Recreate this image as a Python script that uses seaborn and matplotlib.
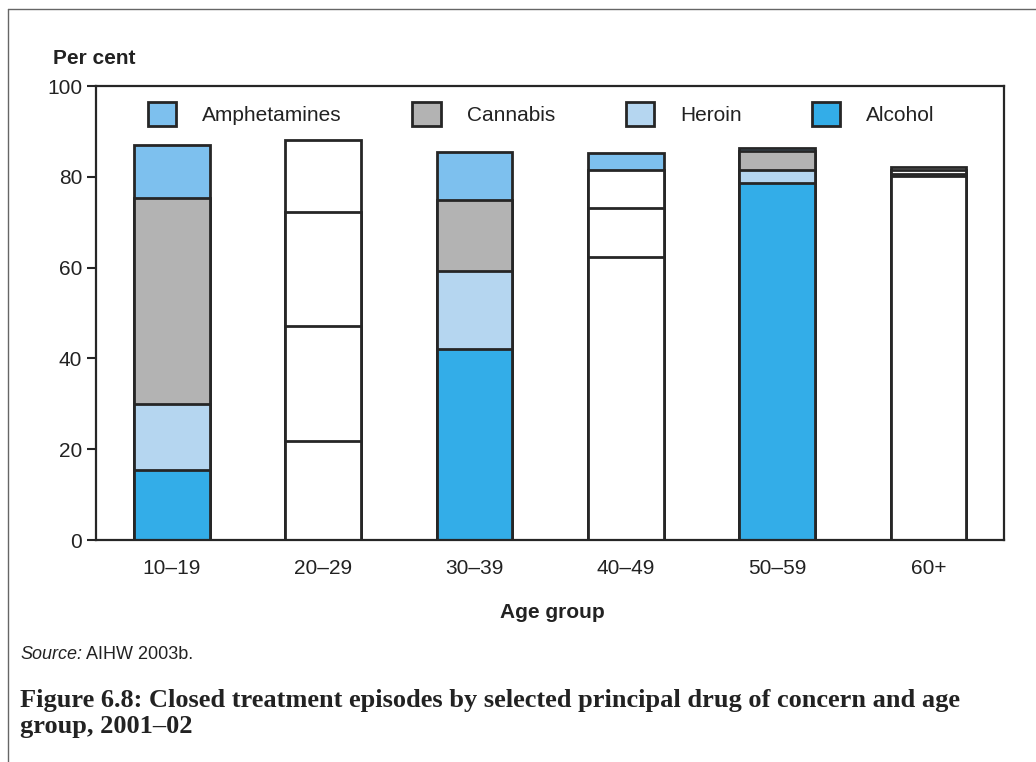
import matplotlib
matplotlib.use("Agg")
import matplotlib.pyplot as plt
from matplotlib.patches import Patch
from matplotlib.lines import Line2D
import pandas as pd
import seaborn as sns

# Values (per cent of closed episodes)
ages = ["10–19", "20–29", "30–39", "40–49", "50–59", "60+"]
alcohol = [15.4, 21.8, 42.0, 62.4, 78.6, 80.1]
heroin = [14.5, 25.3, 17.3, 10.7, 2.8, 0.5]
cannabis = [45.4, 25.2, 15.7, 8.5, 4.2, 1.0]
amphetamines = [11.7, 15.8, 10.5, 3.6, 0.7, 0.5]

stack = ["Alcohol", "Heroin", "Cannabis", "Amphetamines"]
legend_order = ["Amphetamines", "Cannabis", "Heroin", "Alcohol"]
colors = {"Amphetamines": "#7dc0ee", "Cannabis": "#b3b3b3",
          "Heroin": "#b5d6f0", "Alcohol": "#33ade8"}
# segments printed without their fill in the source figure
no_fill = {"Alcohol": [0, 1, 0, 1, 0, 1], "Heroin": [0, 1, 0, 1, 0, 1],
           "Cannabis": [0, 1, 0, 1, 0, 1], "Amphetamines": [0, 1, 0, 0, 0, 1]}
edge = "#262626"

df = pd.DataFrame({"age": ages, "Alcohol": alcohol, "Heroin": heroin,
                   "Cannabis": cannabis, "Amphetamines": amphetamines})
cum = df[stack].cumsum(axis=1)

sns.set_style("ticks")
plt.rcParams["font.family"] = ["Liberation Sans", "DejaVu Sans"]
plt.rcParams["text.color"] = "#222222"

W, H = 1036, 762
fig = plt.figure(figsize=(W / 100, H / 100), dpi=100)
ax = fig.add_axes([96 / W, 1 - 540 / H, 908 / W, 454 / H])

# stacked bars: draw cumulative totals from the top layer down
for drug in reversed(stack):
    n0 = len(ax.patches)
    sns.barplot(x=df["age"], y=cum[drug], color=colors[drug], saturation=1,
                width=0.5, edgecolor=edge, linewidth=2, errorbar=None, ax=ax)
    for p, gone in zip(ax.patches[n0:], no_fill[drug]):
        if gone:
            p.set_facecolor("white")

ax.set_xlim(-0.5, 5.5)
ax.set_ylim(0, 100)
ax.set_yticks(range(0, 101, 20))
ax.set_xlabel("")
ax.set_ylabel("")
ax.tick_params(axis="x", length=0, pad=14, labelsize=15, labelcolor="#222222")
ax.tick_params(axis="y", length=6.5, width=1.5, pad=3.5, labelsize=15,
               color=edge, labelcolor="#222222")
for s in ax.spines.values():
    s.set_linewidth(1.6)
    s.set_color(edge)

handles = [Patch(facecolor=colors[d], edgecolor=edge, linewidth=2) for d in legend_order]
ax.legend(handles, legend_order, ncol=4, loc="center left",
          bbox_to_anchor=(0.057, 0.938), frameon=False, fontsize=15,
          handlelength=1.35, handleheight=1.35, handletextpad=1.25,
          columnspacing=3.4, borderpad=0, borderaxespad=0)

fig.text(53 / W, 1 - 58 / H, "Per cent", fontsize=15, fontweight="bold", va="center")
fig.text(552 / W, 1 - 612 / H, "Age group", fontsize=15, fontweight="bold",
         ha="center", va="center")
src = fig.text(20 / W, 1 - 663 / H, "Source:", fontsize=13, style="italic", va="bottom")
ax.annotate(" AIHW 2003b.", xy=(1, 0), xycoords=src, fontsize=13,
            va="bottom", annotation_clip=False)
fig.text(20 / W, 1 - 689 / H,
         "Figure 6.8: Closed treatment episodes by selected principal drug of concern and age\n"
         "group, 2001–02", family=["Liberation Serif", "DejaVu Serif"],
         fontsize=19, fontweight="bold", va="top", linespacing=1.15)

# page frame (top and left rules)
fig.add_artist(Line2D([8 / W, 8 / W], [0, 1 - 9 / H], color="#666666", lw=1))
fig.add_artist(Line2D([8 / W, 1], [1 - 9 / H, 1 - 9 / H], color="#666666", lw=1))

fig.savefig("out.png", dpi=100)
